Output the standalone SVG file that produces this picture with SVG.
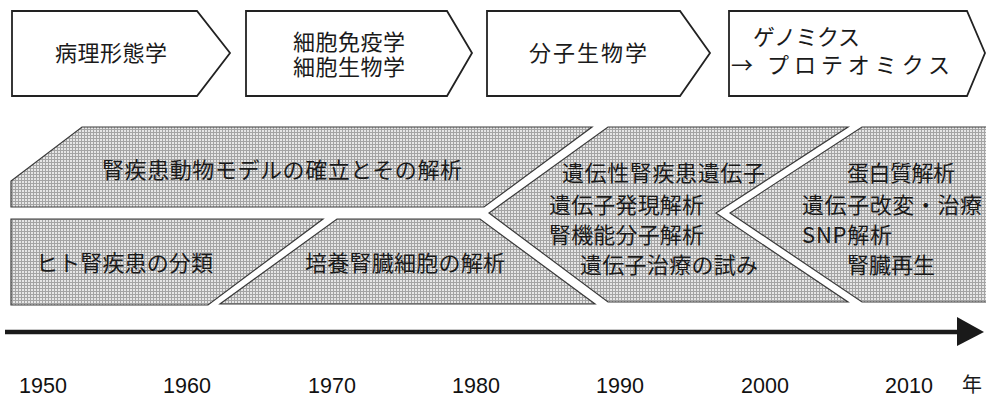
<svg xmlns="http://www.w3.org/2000/svg" width="986" height="399" viewBox="0 0 986 399">
<style>
.box{fill:#fff;stroke:#222;stroke-width:1.8;stroke-linejoin:miter}
.band{fill:url(#grid);stroke:#3a3a3a;stroke-width:1.2}
.jp{font-family:"Noto Sans CJK JP","Noto Sans",sans-serif;fill:#1a1a1a}
.t1{font-size:22px}
.t2{font-size:22px}
.yr{font-family:"Liberation Sans",Arial,sans-serif;font-size:21.5px;fill:#111;text-anchor:middle}
</style>
<defs>
<pattern id="grid" width="3" height="3" patternUnits="userSpaceOnUse">
<rect width="3" height="3" fill="#e6e6e6"/>
<rect width="3" height="1" fill="#a4a4a4"/>
<rect width="1" height="3" fill="#a4a4a4"/>
</pattern>
</defs>

<g id="stage1">
<polygon class="box" points="12,11 197,11 230,53 197,96 12,96"/>
<text class="jp t1" x="111" y="61" text-anchor="middle" textLength="112">病理形態学</text>
</g>
<g id="stage2">
<polygon class="box" points="246,11 447,11 472,53 447,96 246,96"/>
<text class="jp t1" x="349" y="50" text-anchor="middle" textLength="112">細胞免疫学</text>
<text class="jp t1" x="349" y="75" text-anchor="middle" textLength="112">細胞生物学</text>
</g>
<g id="stage3">
<polygon class="box" points="487,11 680,11 710,53 680,96 487,96"/>
<text class="jp t1" x="588" y="61" text-anchor="middle" textLength="118">分子生物学</text>
</g>
<g id="stage4">
<polygon class="box" points="729,11 967,11 985,53 967,96 729,96"/>
<text class="jp t1" x="753" y="45" textLength="107">ゲノミクス</text>
<text class="jp t1" x="731" y="73">→</text>
<text class="jp t1" x="767" y="73" textLength="183">プロテオミクス</text>
</g>

<g id="band-animal">
<polygon class="band" points="82,127 592,127 484,207 11,207 11,181"/>
<text class="jp t2" x="282" y="178" text-anchor="middle" textLength="360">腎疾患動物モデルの確立とその解析</text>
</g>
<g id="band-human">
<polygon class="band" points="11,219 323,219 208,305 11,305"/>
<text class="jp t2" x="36" y="271" textLength="177">ヒト腎疾患の分類</text>
</g>
<g id="band-culture">
<polygon class="band" points="337,219 480,219 595,304 220,304"/>
<text class="jp t2" x="305" y="271" textLength="200">培養腎臓細胞の解析</text>
</g>
<g id="band-genetic">
<polygon class="band" points="608,127 848,127 716,213 848,302 608,302 489,213"/>
<text class="jp t2" x="562" y="181" textLength="203">遺伝性腎疾患遺伝子</text>
<text class="jp t2" x="549" y="213" textLength="155">遺伝子発現解析</text>
<text class="jp t2" x="549" y="243" textLength="155">腎機能分子解析</text>
<text class="jp t2" x="580" y="273" textLength="178">遺伝子治療の試み</text>
</g>
<g id="band-protein">
<polygon class="band" points="862,127 990,127 990,302 862,302 730,213"/>
<text class="jp t2" x="847" y="181" textLength="108">蛋白質解析</text>
<text class="jp t2" x="802" y="213" textLength="180">遺伝子改変・治療</text>
<text class="jp t2" x="802" y="243" textLength="90">SNP解析</text>
<text class="jp t2" x="847" y="273" textLength="88">腎臓再生</text>
</g>

<g id="connectors">
<line x1="5" y1="332" x2="960" y2="332" stroke="#1a1a1a" stroke-width="4.5"/>
<polygon points="957,317 984,332 957,346" fill="#1a1a1a"/>
</g>

<g id="years">
<text class="yr" x="43" y="393">1950</text>
<text class="yr" x="187" y="393">1960</text>
<text class="yr" x="332" y="393">1970</text>
<text class="yr" x="476" y="393">1980</text>
<text class="yr" x="620" y="393">1990</text>
<text class="yr" x="765" y="393">2000</text>
<text class="yr" x="909" y="393">2010</text>
<text class="jp" x="962" y="392" font-size="20">年</text>
</g>
</svg>
